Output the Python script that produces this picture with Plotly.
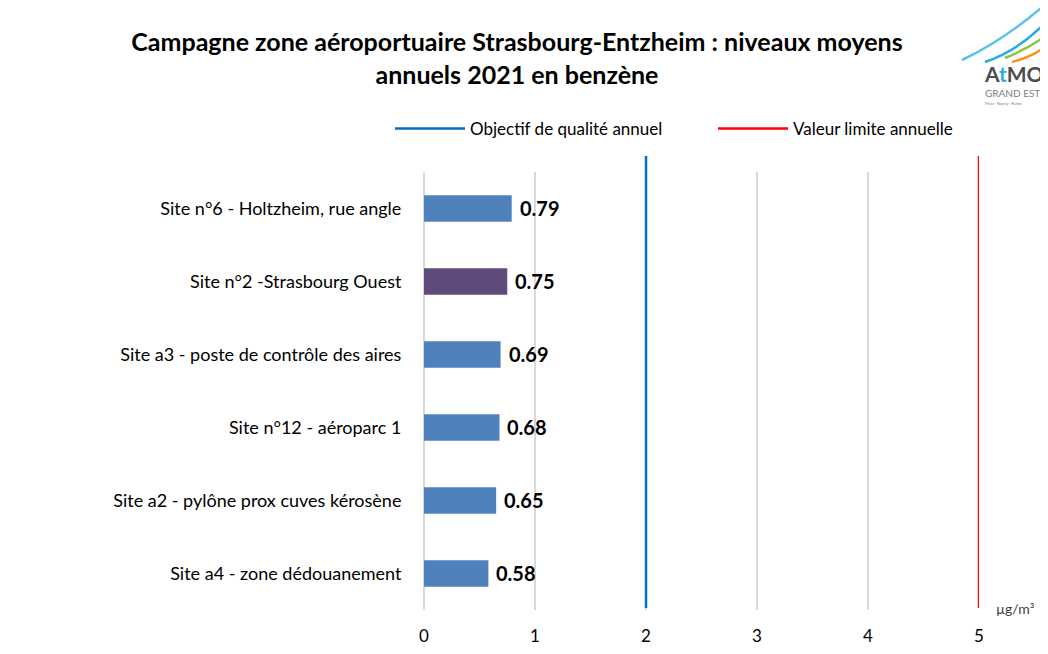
import plotly.graph_objects as go

sites = [
    "Site n°6 - Holtzheim, rue angle",
    "Site n°2 -Strasbourg Ouest",
    "Site a3 - poste de contrôle des aires",
    "Site n°12 - aéroparc 1",
    "Site a2 - pylône prox cuves kérosène",
    "Site a4 - zone dédouanement",
]
values = [0.79, 0.75, 0.69, 0.68, 0.65, 0.58]
bar_colors = ["#4F81BD", "#604A7B", "#4F81BD", "#4F81BD", "#4F81BD", "#4F81BD"]
objectif_qualite = 2
valeur_limite = 5
x_ticks = [0, 1, 2, 3, 4, 5]

FONT = "Lato"
O = 8  # page body margin
W, H = 1048 - O, 654 - O
L, R, T, B = 424 - O, 69, 172 - O, 44
pw, ph = W - L - R, H - T - B

def px(x):
    return (x - O - L) / pw

def py(y):
    return (H - B - (y - O)) / ph

fig = go.Figure()
fig.add_trace(go.Bar(
    x=values[::-1], y=sites[::-1], orientation="h",
    marker=dict(color=bar_colors[::-1], line=dict(width=0)),
    width=0.36, showlegend=False, hoverinfo="x+y",
))
fig.add_trace(go.Scatter(x=[None], y=[None], mode="lines",
                         line=dict(color="#0070C0", width=2.5),
                         name="Objectif de qualité annuel"))
fig.add_trace(go.Scatter(x=[None], y=[None], mode="lines",
                         line=dict(color="#FF0000", width=2.5),
                         name="Valeur limite annuelle"))

for s, v in zip(sites, values):
    fig.add_annotation(x=v, y=s, text=f"<b>{v:.2f}</b>", showarrow=False,
                       xanchor="left", xshift=6, yshift=1,
                       font=dict(family=FONT, size=20, color="#000000"))

for val, col in [(objectif_qualite, "#0070C0"), (valeur_limite, "#FF0000")]:
    fig.add_shape(type="line", xref="x", yref="paper", x0=val, x1=val,
                  y0=py(608), y1=py(156), line=dict(color=col, width=2.5),
                  layer="above")

fig.add_annotation(xref="paper", yref="paper", x=px(994), y=py(608),
                   text="µg/m³", showarrow=False, xanchor="left", yanchor="middle",
                   font=dict(family=FONT, size=14, color="#404040"))

# Logo (approximation)
logo_curves = [
    ("M 962 60 Q 1005 40 1048 2", "#5BC0EB", 2.5),
    ("M 985 62 Q 1020 50 1048 20", "#29ABE2", 2.5),
    ("M 1005 58 Q 1030 48 1048 34", "#8CC63F", 2.5),
    ("M 1012 62 Q 1035 56 1048 44", "#F7941D", 2.5),
]
for d, c, wdt in logo_curves:
    parts = d.split()
    out = []
    i = 0
    while i < len(parts):
        if parts[i] in ("M", "Q"):
            out.append(parts[i]); i += 1
        else:
            xx = px(float(parts[i])); yy = py(float(parts[i + 1]))
            out.append(f"{xx:.4f},{yy:.4f}"); i += 2
    fig.add_shape(type="path", xref="paper", yref="paper", path=" ".join(out),
                  line=dict(color=c, width=wdt))
fig.add_annotation(xref="paper", yref="paper", x=px(983), y=py(73),
                   text="<b>A<span style='color:#29ABE2'>t</span>MO</b>",
                   showarrow=False, xanchor="left", yanchor="middle", borderpad=0,
                   font=dict(family=FONT, size=21, color="#4D4D4D"))
fig.add_annotation(xref="paper", yref="paper", x=px(984), y=py(93),
                   text="GRAND EST", showarrow=False, xanchor="left", yanchor="middle",
                   borderpad=0, font=dict(family=FONT, size=10, color="#808080"))
fig.add_annotation(xref="paper", yref="paper", x=px(984), y=py(103),
                   text="Metz · Nancy · Reims", showarrow=False,
                   xanchor="left", yanchor="middle", borderpad=0,
                   font=dict(family=FONT, size=4, color="#808080"))

fig.update_layout(
    width=W, height=H,
    margin=dict(l=L, r=R, t=T, b=B, autoexpand=False),
    paper_bgcolor="white", plot_bgcolor="white",
    title=dict(text="<b>Campagne zone aéroportuaire Strasbourg-Entzheim : niveaux moyens<br>annuels 2021 en benzène</b>",
               x=(517 - O) / W, xanchor="center", y=1 - (51 - O) / H, yanchor="middle",
               font=dict(family=FONT, size=25, color="#000000")),
    legend=dict(orientation="h", x=px(390), y=py(129), xanchor="left", yanchor="middle",
                font=dict(family=FONT, size=17, color="#000000"),
                itemwidth=70, entrywidth=238, bgcolor="rgba(0,0,0,0)"),
    xaxis=dict(range=[0, 5], tickvals=x_ticks, showgrid=True, gridcolor="#D9D9D9",
               gridwidth=1.5, zeroline=True, zerolinecolor="#D9D9D9", zerolinewidth=1.5,
               showline=False, ticks="outside", ticklen=11, tickcolor="rgba(0,0,0,0)",
               tickfont=dict(family=FONT, size=17, color="#000000"), fixedrange=True),
    yaxis=dict(showgrid=False, ticks="outside", ticklen=18, tickcolor="rgba(0,0,0,0)",
               tickfont=dict(family=FONT, size=18, color="#000000"), fixedrange=True,
               range=[-0.5, 5.5]),
    bargap=0.64,
    font=dict(family=FONT),
)

fig.write_html("out.html")
